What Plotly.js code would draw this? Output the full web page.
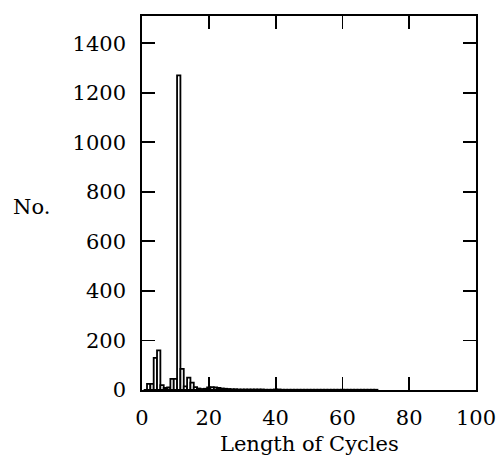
<!DOCTYPE html>
<html>
<head>
<meta charset="utf-8">
<script src="https://cdn.plot.ly/plotly-3.0.1.min.js"></script>
<style>html,body{margin:0;padding:0;background:#fff;}#chart{width:498px;height:459px;}</style>
</head>
<body>
<div id="chart"></div>
<script>
// Cycle lengths (bins of width 1) and counts
const cycleLength = [1,2,3,4,5,6,7,8,9,10,11,12,13,14,15,16,17,18,19,20,
  21,22,23,24,25,26,27,28,29,30,31,32,33,34,35,36,37,38,39,40,
  41,42,43,44,45,46,47,48,49,50,51,52,53,54,55,56,57,58,59,60,
  61,62,63,64,65,66,67,68,69,70];
const counts = [0,25,25,130,160,20,8,10,45,45,1270,85,15,50,30,12,6,4,5,10,
  12,10,8,6,5,4,3,3,2,2,2,2,2,2,2,2,1,1,1,2,
  2,1,1,1,1,1,1,1,1,1,1,1,1,1,1,1,1,1,1,1,
  1,1,1,1,1,1,1,1,1,1];
const xTicks = [0,20,40,60,80,100];
const yTicks = [0,200,400,600,800,1000,1200,1400];

const font = {family: 'DejaVu Serif, Liberation Serif, serif', size: 21, color: '#000'};

Plotly.newPlot('chart', [{
  type: 'bar',
  x: cycleLength,
  y: counts,
  width: 1,
  marker: {color: '#fff', line: {color: '#000', width: 1.8}},
  hoverinfo: 'skip'
}], {
  width: 498, height: 459,
  margin: {l: 142, r: 22, t: 16, b: 69},
  paper_bgcolor: '#fff', plot_bgcolor: '#fff',
  showlegend: false,
  bargap: 0,
  font: font,
  xaxis: {
    range: [0, 100],
    tickvals: xTicks, ticktext: xTicks.map(String),
    ticks: 'inside', ticklen: 13, tickwidth: 1.8, tickcolor: '#000',
    showline: true, linecolor: '#000', linewidth: 1.8, mirror: 'allticks',
    showgrid: false, zeroline: false,
    tickfont: font, ticklabelstandoff: 8
  },
  yaxis: {
    range: [0, 1510],
    tickvals: yTicks, ticktext: yTicks.map(String),
    ticks: 'inside', ticklen: 13, tickwidth: 1.8, tickcolor: '#000',
    showline: true, linecolor: '#000', linewidth: 1.8, mirror: 'allticks',
    showgrid: false, zeroline: false,
    tickfont: font, ticklabelstandoff: 10
  },
  annotations: [{
    text: 'No.', xref: 'paper', yref: 'paper', x: -0.33, y: 0.49,
    xanchor: 'center', yanchor: 'middle', showarrow: false, font: font
  }, {
    text: 'Length of Cycles', xref: 'paper', yref: 'paper', x: 0.5, y: -0.145,
    xanchor: 'center', yanchor: 'middle', showarrow: false, font: font
  }]
}, {staticPlot: true, displayModeBar: false});
</script>
</body>
</html>
